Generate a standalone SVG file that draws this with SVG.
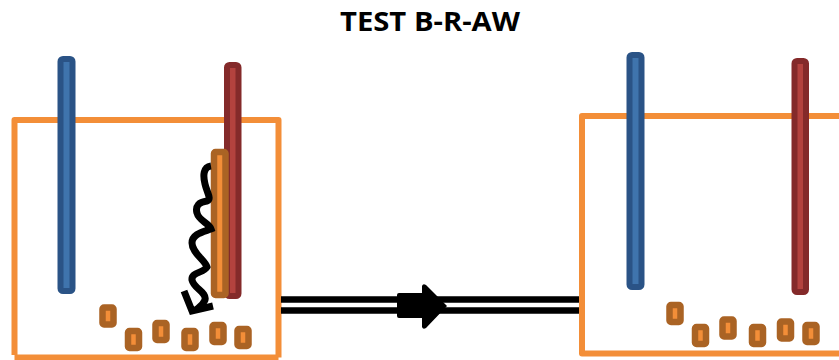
<svg xmlns="http://www.w3.org/2000/svg" width="839" height="360" viewBox="0 0 839 360">
  <style>
    .tank { fill: none; stroke: #f38e38; stroke-width: 6; stroke-linejoin: round; }
    .rod { stroke-width: 6; }
    .blue { fill: #3f74ad; stroke: #2a5386; }
    .red { fill: #b3423e; stroke: #842a2a; }
    .pellet { fill: #f38e38; stroke: #aa6324; stroke-width: 6.500; }
    .pipe { stroke: #000; stroke-width: 6.500; fill: none; }
    .wire { fill: none; stroke: #000; stroke-width: 7; stroke-linecap: butt; stroke-linejoin: miter; }
    .title { font-family: "Open Sans", "Liberation Sans", sans-serif; font-weight: 700; font-size: 27px; fill: #000; }
  </style>
  <defs>
    <rect id="pellet" x="-5.500" y="-8.500" width="11" height="17" rx="1.500" class="pellet"/>
  </defs>

  <text id="title" class="title" x="340" y="31" textLength="180" lengthAdjust="spacingAndGlyphs">TEST B-R-AW</text>

  <g id="tank-left">
    <path class="tank" d="M14.500 355V120H278.500V357.500M14.500 357.500H278.500"/>
    <rect class="rod blue" x="60.500" y="59" width="12" height="232" rx="2.500"/>
    <rect class="rod red" x="227" y="65" width="11.500" height="231" rx="2.500"/>
    <rect x="214" y="152" width="11.500" height="143" rx="1.500" class="pellet"/>
    <path class="wire" d="M211 166C203 167 203 176 205 184C207 193 212 199 207 201C199 202 195 206 197 213C199 221 209 223 211 229C203 232 192 234 192 243C192 253 205 260 207 267C204 273 191 272 192 280C194 289 207 292 205 300C203 305 199 307 196 310"/>
    <path class="wire" d="M184 291L192 311L213 306"/>
    <use href="#pellet" x="108" y="316"/>
    <use href="#pellet" x="133.500" y="339.500"/>
    <use href="#pellet" x="161" y="331.500"/>
    <use href="#pellet" x="190" y="339.500"/>
    <use href="#pellet" x="218" y="333.500"/>
    <use href="#pellet" x="243" y="337.500"/>
  </g>

  <g id="tank-right">
    <path class="tank" d="M839 116H582V353.500H839"/>
    <rect class="rod blue" x="629.500" y="55" width="12" height="232" rx="2.500"/>
    <rect class="rod red" x="794.500" y="61" width="11.500" height="231" rx="2.500"/>
    <use href="#pellet" x="675" y="313.500"/>
    <use href="#pellet" x="700.500" y="335.500"/>
    <use href="#pellet" x="728" y="328"/>
    <use href="#pellet" x="757.500" y="335.500"/>
    <use href="#pellet" x="785.500" y="330"/>
    <use href="#pellet" x="811" y="333.500"/>
  </g>

  <g id="connectors">
    <path class="pipe" d="M281 299.500H579M281 310.500H579"/>
    <path d="M399 293H422V286Q423 283 426 285L447 306L426 328Q423 330 422 327V318H399Q397 318 397 316V295Q397 293 399 293Z" fill="#000"/>
  </g>
</svg>
